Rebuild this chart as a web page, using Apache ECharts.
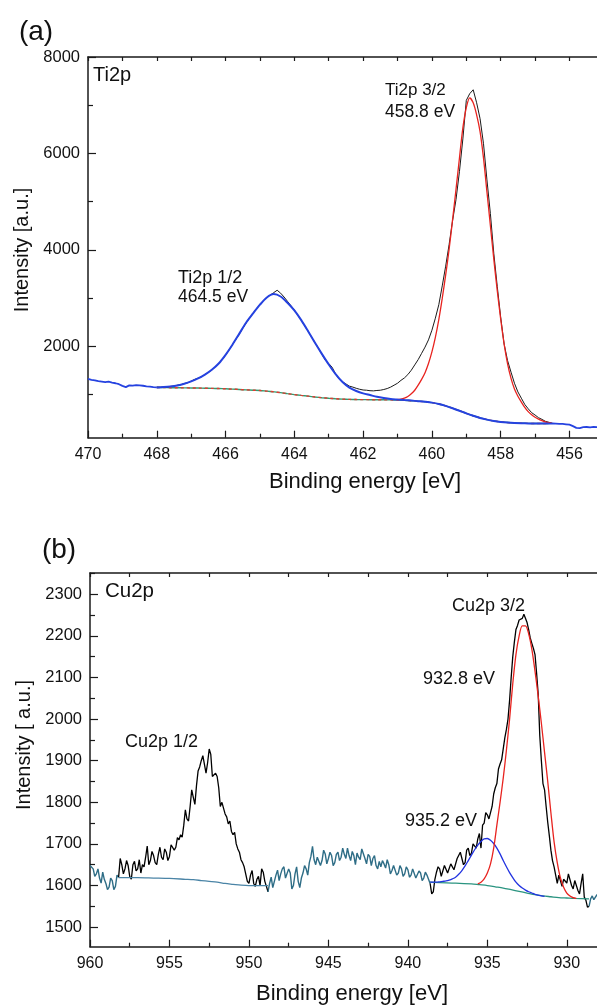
<!DOCTYPE html>
<html>
<head>
<meta charset="utf-8">
<title>XPS Ti2p / Cu2p</title>
<script src="https://cdn.jsdelivr.net/npm/echarts@6/dist/echarts.min.js"></script>
<style>
    html, body { margin: 0; padding: 0; background: #fff; }
    #xps__chart { width: 597px; height: 1005px; }
</style>
</head>
<body>
<div id="xps__chart"></div>
<script>
const FONT = '"Liberation Sans", Arial, Helvetica, sans-serif';
const AXIS_COLOR = '#1a1a1a';
const TEXT_COLOR = '#111';

// ---------- (a) Ti2p ----------
const TI_X_MIN = 455.2, TI_X_MAX = 470;
const TI_Y_MIN = 100, TI_Y_MAX = 8000;
const tiXLabels = [470, 468, 466, 464, 462, 460, 458, 456];
const tiXMinor = [469, 467, 465, 463, 461, 459, 457];
const tiYLabels = [2000, 4000, 6000, 8000];
const tiYMinor = [1000, 3000, 5000, 7000];

// measured spectrum inside the fit window, 0.1 eV step (468.0 -> 456.5)
const tiRawStart = 468.0;
const tiRaw = [
    1150, 1145, 1155, 1150, 1165, 1170, 1190, 1200, 1225, 1240,
    1275, 1310, 1335, 1365, 1410, 1455, 1505, 1570, 1640, 1720,
    1810, 1920, 2030, 2140, 2250, 2370, 2480, 2590, 2680, 2780,
    2860, 2950, 3010, 3060, 3110, 3160, 3100, 3020, 2930, 2840,
    2750, 2640, 2540, 2420, 2310, 2190, 2070, 1960, 1830, 1710,
    1640, 1560, 1420, 1320, 1260, 1215, 1170, 1150, 1125, 1105,
    1090, 1085, 1075, 1072, 1080, 1085, 1100, 1120, 1150, 1190,
    1230, 1290, 1340, 1410, 1500, 1610, 1720, 1850, 1980, 2130,
    2330, 2580, 2860, 3250, 3660, 4110, 4600, 5040, 5620, 6300,
    7100, 7240, 7320, 7050, 6720, 6200, 5450, 4750, 3920, 3240,
    2600, 2040, 1700, 1460, 1230, 1050, 920, 790, 700, 620,
    570, 515, 480, 440, 420, 400
];
// measured spectrum outside the fit window (drawn blue), 0.1 eV step
const tiTailLeftStart = 470.0;
const tiTailLeft = [
    1320, 1300, 1290, 1275, 1265, 1255, 1262, 1245, 1230, 1210,
    1175, 1150, 1185, 1180, 1190, 1185, 1178, 1165, 1160, 1150, 1145
];
const tiTailRightStart = 456.6;
const tiTailRight = [
    393, 395, 392, 388, 385, 378, 370, 340, 305, 300,
    318, 322, 315, 325, 320, 318, 322
];
// Shirley background and Ti2p 1/2 envelope, 0.2 eV step (468.0 -> 456.6)
const tiBgStart = 468.0;
const tiBackground = [
    1142, 1140, 1138, 1136, 1134, 1132, 1130, 1127, 1124, 1120,
    1115, 1108, 1100, 1092, 1086, 1080, 1066, 1052, 1036, 1014,
    995, 978, 962, 945, 930, 918, 908, 900, 895, 892,
    890, 889, 888, 886, 884, 880, 875, 868, 858, 845,
    828, 800, 760, 712, 660, 605, 555, 510, 475, 448,
    428, 414, 405, 400, 397, 395, 394, 393
];
const tiFitBlue = [
    1142, 1150, 1163, 1185, 1220, 1268, 1330, 1410, 1510, 1640,
    1820, 2030, 2260, 2490, 2680, 2860, 3010, 3080, 3030, 2900,
    2740, 2540, 2310, 2070, 1840, 1620, 1420, 1255, 1140, 1070,
    1020, 985, 950, 925, 905, 892, 880, 870, 858, 845,
    828, 800, 760, 712, 660, 605, 555, 510, 475, 448,
    428, 414, 405, 400, 397, 395, 394, 393
];
// Ti2p 3/2 envelope, 0.1 eV step (461.0 -> 456.5)
const tiFitRedStart = 461.0;
const tiFitRed = [
    893, 900, 920, 955, 1010, 1085, 1190, 1310, 1450, 1640,
    1880, 2180, 2550, 2990, 3480, 4010, 4620, 5250, 5900, 6530,
    6950, 7150, 7050, 6800, 6450, 5900, 5200, 4500, 3800, 3150,
    2560, 2040, 1630, 1330, 1110, 960, 840, 730, 640, 575,
    525, 485, 455, 430, 412, 398
];

// ---------- (b) Cu2p ----------
const CU_X_MIN = 928.1, CU_X_MAX = 960;
const CU_Y_MIN = 1453, CU_Y_MAX = 2351;
const cuXLabels = [960, 955, 950, 945, 940, 935, 930];
const cuXMinor = [957.5, 952.5, 947.5, 942.5, 937.5, 932.5];
const cuYLabels = [1500, 1600, 1700, 1800, 1900, 2000, 2100, 2200, 2300];
const cuYMinor = [1550, 1650, 1750, 1850, 1950, 2050, 2150, 2250, 2350];

// measured spectrum, 0.1 eV step, split where the colour changes
const cuTeal1Start = 960.0;
const cuTeal1 = [
    1648, 1652, 1640, 1622, 1628, 1640, 1618, 1606, 1632, 1615,
    1605, 1590, 1596, 1618, 1612, 1590, 1598, 1625, 1620
];
const cuBlack1Start = 958.2;
const cuBlack1 = [
    1620, 1665, 1650, 1628, 1640, 1660, 1648, 1622, 1615, 1650,
    1658, 1635, 1640, 1662, 1630, 1650, 1645, 1668, 1695, 1650,
    1660, 1682, 1672, 1655, 1650, 1675, 1692, 1668, 1662, 1688,
    1680, 1660, 1670, 1698, 1700, 1685, 1692, 1715, 1710, 1722,
    1716, 1745, 1782, 1760, 1755, 1790, 1830, 1812, 1795, 1840,
    1875, 1885, 1900, 1912, 1910, 1870, 1895, 1928, 1915, 1862,
    1858, 1870, 1862, 1835, 1790, 1800, 1798, 1772, 1765, 1748,
    1755, 1730, 1722, 1728, 1700, 1688, 1680, 1662, 1655, 1645,
    1642, 1610, 1605, 1625, 1636, 1605, 1598, 1615, 1622, 1600,
    1640, 1632, 1610, 1598, 1585
];
const cuTeal2Start = 948.8;
const cuTeal2 = [
    1585, 1605, 1620, 1595, 1598, 1625, 1637, 1612, 1628, 1640,
    1645, 1618, 1622, 1640, 1630, 1592, 1600, 1628, 1645, 1610,
    1595, 1618, 1630, 1648, 1640, 1625, 1655, 1670, 1694, 1662,
    1650, 1668, 1672, 1648, 1660, 1685, 1676, 1652, 1665, 1680,
    1672, 1648, 1655, 1675, 1680, 1660, 1668, 1690, 1675, 1665,
    1690, 1672, 1660, 1682, 1672, 1650, 1678, 1668, 1662, 1688,
    1692, 1665, 1652, 1675, 1670, 1648, 1665, 1672, 1648, 1640,
    1658, 1645, 1660, 1652, 1642, 1662, 1650, 1628, 1636, 1648,
    1645, 1625, 1630, 1648, 1640, 1622, 1628, 1645, 1638, 1620,
    1625, 1640, 1637, 1618, 1622, 1635, 1630, 1612, 1618, 1632,
    1625, 1615, 1605
];
const cuBlack2Start = 938.6;
const cuBlack2 = [
    1605, 1580, 1585, 1615, 1632, 1645, 1640, 1622, 1625, 1648,
    1645, 1630, 1632, 1652, 1650, 1638, 1640, 1665, 1662, 1680,
    1676, 1650, 1655, 1685, 1690, 1672, 1678, 1700, 1702, 1690,
    1712, 1725, 1690, 1745, 1750, 1775, 1770, 1760, 1756, 1790,
    1820, 1835, 1845, 1880, 1892, 1902, 1900, 1955, 1975, 2000,
    2045, 2100, 2150, 2185, 2215, 2225, 2238, 2240, 2242, 2252,
    2250, 2232, 2215, 2195, 2182, 2170, 2155, 2110, 2060, 1960,
    1900, 1845, 1830, 1790, 1752, 1720, 1685, 1660, 1645, 1625,
    1605, 1625, 1628, 1598, 1615, 1612, 1606, 1628, 1630, 1600,
    1592, 1612, 1612, 1588, 1580, 1605, 1628, 1572, 1565, 1548,
    1550
];
const cuTeal3Start = 928.6;
const cuTeal3 = [1550, 1568, 1575, 1566, 1570, 1578, 1574];

// backgrounds [eV, counts]
const cuBgHigh = [
    [958.2, 1619], [957, 1619], [956, 1618], [955, 1617], [954, 1615],
    [953.5, 1614], [953, 1612], [952.5, 1610], [952, 1608], [951.5, 1605],
    [951, 1603], [950.5, 1601], [950, 1600], [949.5, 1600], [948.8, 1600]
];
const cuBgLow = [
    [938.6, 1608], [938, 1607], [937, 1606], [936, 1604], [935.5, 1602],
    [935, 1600], [934.5, 1597], [934, 1594], [933.5, 1590], [933, 1586],
    [932.5, 1582], [932, 1578], [931.5, 1575], [931, 1573], [930.5, 1571],
    [930, 1570], [929.5, 1569], [928.6, 1568]
];
// fitted components, 0.2 eV step
const cuFitBlueStart = 938.6;
const cuFitBlue = [
    1608, 1608, 1608, 1609, 1610, 1611, 1613, 1616, 1620, 1627,
    1636, 1647, 1660, 1673, 1686, 1697, 1706, 1712, 1713, 1709,
    1701, 1690, 1676, 1660, 1645, 1631, 1619, 1608, 1600, 1594,
    1589, 1585, 1582, 1579, 1577, 1575, 1574
];
const cuFitRedStart = 935.6;
const cuFitRed = [
    1604, 1608, 1616, 1630, 1652, 1690, 1745, 1800, 1858, 1925,
    2000, 2085, 2155, 2200, 2224, 2224, 2205, 2168, 2115, 2055,
    1990, 1920, 1850, 1775, 1705, 1655, 1618, 1596, 1582, 1575,
    1571, 1569
];

function toPairs(start, step, values) {
    return values.map((v, i) => [Math.round((start - i * step) * 100) / 100, v]);
}

function xAxisCfg(grid, min, max, opts) {
    return {
        type: 'value',
        gridIndex: grid,
        min: min,
        max: max,
        inverse: true,
        position: opts.position || 'bottom',
        axisLine: {show: !!opts.line, onZero: false, lineStyle: {color: AXIS_COLOR, width: 1.5}},
        axisTick: {
            show: true, inside: true, length: opts.tickLen, customValues: opts.ticks,
            lineStyle: {color: AXIS_COLOR, width: 1.2}
        },
        axisLabel: opts.labels ? {
            show: true, customValues: opts.labels, margin: 9,
            fontSize: 16, fontFamily: FONT, color: TEXT_COLOR,
            formatter: (v) => String(v)
        } : {show: false},
        splitLine: {show: false},
    };
}

function yAxisCfg(grid, min, max, opts) {
    return {
        type: 'value',
        gridIndex: grid,
        min: min,
        max: max,
        position: 'left',
        axisLine: {show: !!opts.line, onZero: false, lineStyle: {color: AXIS_COLOR, width: 1.5}},
        axisTick: {
            show: true, inside: true, length: opts.tickLen, customValues: opts.ticks,
            lineStyle: {color: AXIS_COLOR, width: 1.2}
        },
        axisLabel: opts.labels ? {
            show: true, customValues: opts.labels, margin: 8,
            fontSize: 16.5, fontFamily: FONT, color: TEXT_COLOR,
            formatter: (v) => String(v)
        } : {show: false},
        splitLine: {show: false},
    };
}

function line(data, color, width, xIdx, yIdx, extra) {
    return Object.assign({
        type: 'line',
        data: data,
        xAxisIndex: xIdx,
        yAxisIndex: yIdx,
        showSymbol: false,
        symbol: 'none',
        silent: true,
        clip: true,
        lineStyle: {color: color, width: width},
    }, extra || {});
}

function label(text, x, y, size) {
    return {
        type: 'text',
        x: x,
        y: y,
        style: {
            text: text, fontSize: size, fontFamily: FONT, fill: TEXT_COLOR,
            align: 'left', verticalAlign: 'middle'
        }
    };
}

function centered(text, x, y, size, rotation) {
    return {
        type: 'text',
        x: x,
        y: y,
        rotation: rotation || 0,
        style: {
            text: text, fontSize: size, fontFamily: FONT, fill: TEXT_COLOR,
            align: 'center', verticalAlign: 'middle'
        }
    };
}

function initXps() {
    let chartDom = document.getElementById('xps__chart');
    let myChart = echarts.init(chartDom, null, {renderer: 'canvas'});
    let option;

    const tiAll = [...tiXLabels, ...tiXMinor];
    const cuAll = [...cuXLabels, ...cuXMinor];

    option = {
        animation: false,
        backgroundColor: '#fff',
        grid: [
            {left: 88, top: 57, right: 0, bottom: 567.3, outerBoundsMode: 'none'},
            {left: 90, top: 573, right: 0, bottom: 58.3, outerBoundsMode: 'none'},
        ],
        xAxis: [
            xAxisCfg(0, TI_X_MIN, TI_X_MAX, {line: true, tickLen: 7, ticks: tiXLabels, labels: tiXLabels}),
            xAxisCfg(0, TI_X_MIN, TI_X_MAX, {tickLen: 4, ticks: tiXMinor}),
            xAxisCfg(0, TI_X_MIN, TI_X_MAX, {position: 'top', line: true, tickLen: 4, ticks: tiAll}),
            xAxisCfg(1, CU_X_MIN, CU_X_MAX, {line: true, tickLen: 7, ticks: cuXLabels, labels: cuXLabels}),
            xAxisCfg(1, CU_X_MIN, CU_X_MAX, {tickLen: 4, ticks: cuXMinor}),
            xAxisCfg(1, CU_X_MIN, CU_X_MAX, {position: 'top', line: true, tickLen: 4, ticks: cuAll}),
        ],
        yAxis: [
            yAxisCfg(0, TI_Y_MIN, TI_Y_MAX, {line: true, tickLen: 8, ticks: tiYLabels, labels: tiYLabels}),
            yAxisCfg(0, TI_Y_MIN, TI_Y_MAX, {tickLen: 5, ticks: tiYMinor}),
            yAxisCfg(1, CU_Y_MIN, CU_Y_MAX, {line: true, tickLen: 8, ticks: cuYLabels, labels: cuYLabels}),
            yAxisCfg(1, CU_Y_MIN, CU_Y_MAX, {tickLen: 5, ticks: cuYMinor}),
        ],
        series: [
            // Ti2p
            line(toPairs(tiBgStart, 0.2, tiBackground), '#2f9e72', 1.4, 0, 0, {smooth: 0.3}),
            line(toPairs(tiBgStart, 0.2, tiBackground), '#e23a30', 1.4, 0, 0, {
                smooth: 0.3, lineStyle: {color: '#e23a30', width: 1.4, type: [3, 3]}
            }),
            line(toPairs(tiRawStart, 0.1, tiRaw), '#1a1a1a', 1, 0, 0),
            line(toPairs(tiFitRedStart, 0.1, tiFitRed), '#e8231f', 1.3, 0, 0, {smooth: 0.3}),
            line(toPairs(tiBgStart, 0.2, tiFitBlue), '#2542e0', 2, 0, 0, {smooth: 0.3}),
            line(toPairs(tiTailLeftStart, 0.1, tiTailLeft), '#2542e0', 1.8, 0, 0),
            line(toPairs(tiTailRightStart, 0.1, tiTailRight), '#2542e0', 1.8, 0, 0),

            // Cu2p
            line(toPairs(cuTeal1Start, 0.1, cuTeal1), '#2e6d86', 1.4, 3, 2),
            line(toPairs(cuBlack1Start, 0.1, cuBlack1), '#000', 1.3, 3, 2),
            line(toPairs(cuTeal2Start, 0.1, cuTeal2), '#2e6d86', 1.4, 3, 2),
            line(toPairs(cuBlack2Start, 0.1, cuBlack2), '#000', 1.3, 3, 2),
            line(toPairs(cuTeal3Start, 0.1, cuTeal3), '#2e6d86', 1.4, 3, 2),
            line(cuBgHigh, '#4a84a6', 1.3, 3, 2, {smooth: 0.3}),
            line(cuBgLow, '#2a9480', 1.3, 3, 2, {smooth: 0.3}),
            line(toPairs(cuFitBlueStart, 0.2, cuFitBlue), '#2233e0', 1.3, 3, 2, {smooth: 0.3}),
            line(toPairs(cuFitRedStart, 0.2, cuFitRed), '#e8231f', 1.3, 3, 2, {smooth: 0.3}),
        ],
        graphic: [
            centered('(a)', 36, 32, 28),
            centered('(b)', 59, 550, 28),
            centered('Intensity [a.u.]', 22, 250, 20, Math.PI / 2),
            centered('Intensity [ a.u.]', 24, 745, 20, Math.PI / 2),
            centered('Binding energy [eV]', 365, 482, 22),
            centered('Binding energy [eV]', 352, 994, 22),
            label('Ti2p', 93, 75, 20),
            label('Ti2p 3/2', 385, 90, 17),
            label('458.8 eV', 385, 112, 17.5),
            label('Ti2p 1/2', 178, 278, 18),
            label('464.5 eV', 178, 297, 17.5),
            label('Cu2p', 105, 591, 20.5),
            label('Cu2p 1/2', 125, 742, 18),
            label('Cu2p 3/2', 452, 606, 18),
            label('932.8 eV', 423, 679, 18),
            label('935.2 eV', 405, 821, 18),
        ],
    };

    option && myChart.setOption(option);
}

initXps();
</script>
</body>
</html>
